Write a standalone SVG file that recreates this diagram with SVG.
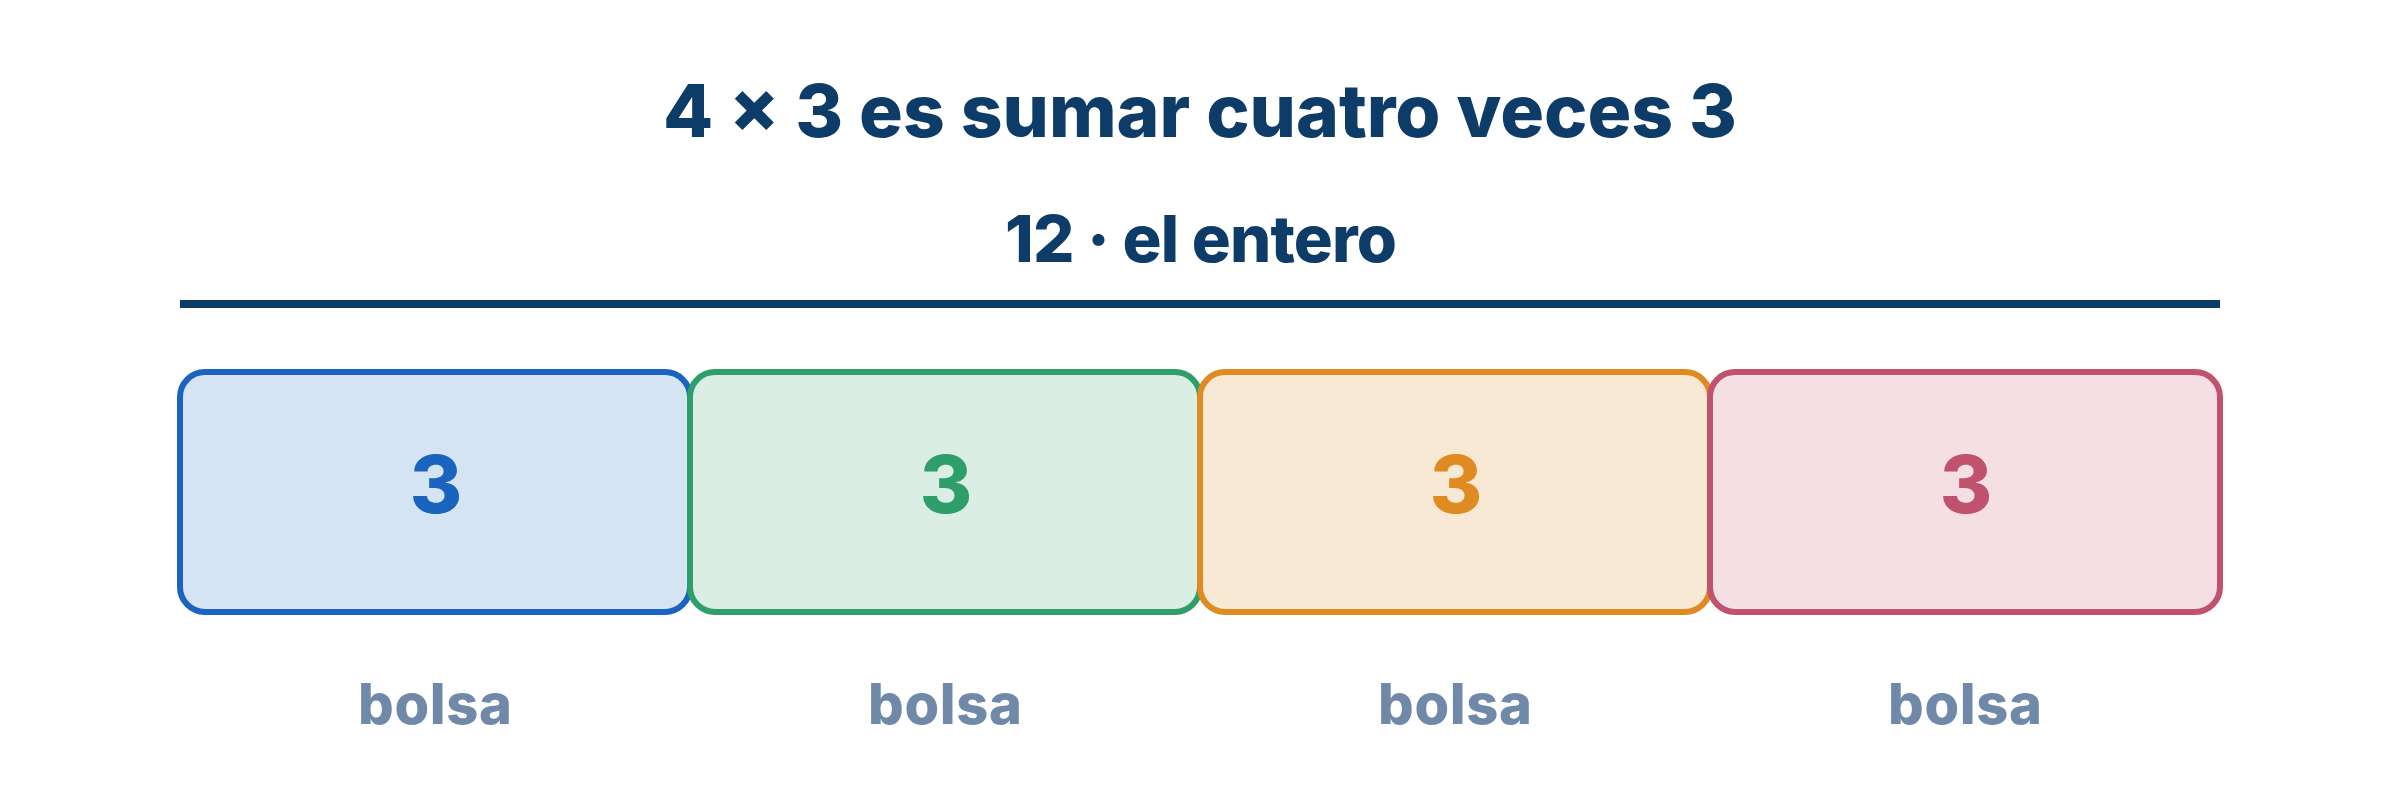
<svg xmlns="http://www.w3.org/2000/svg" width="2400" height="792" viewBox="0 0 2400 792">
<style>
  text { font-family: Inter, "Noto Sans", "Liberation Sans", sans-serif; font-weight: 800; text-anchor: middle; }
  .title { font-size: 73px; fill: #0e3c68; }
  .sub { font-size: 65px; fill: #0e3c68; }
  .num { font-size: 80px; }
  .lbl { font-size: 56px; fill: #7089a8; font-weight: 800; }
  .box { stroke-width: 6; }
</style>
<rect width="2400" height="792" fill="#ffffff"/>
<g id="header">
  <text class="title" x="1200" y="137" textLength="1074" lengthAdjust="spacing">4 × 3 es sumar cuatro veces 3</text>
  <text class="sub" x="1201" y="262" textLength="392" lengthAdjust="spacing">12 · el entero</text>
  <rect x="180" y="300" width="2040" height="8" fill="#0e3c68"/>
</g>
<g id="bag1">
  <rect class="box" x="180" y="372" width="510" height="240" rx="25" fill="#d5e4f3" stroke="#1a64c0"/>
  <text class="num" x="436" y="513" fill="#1a64c0">3</text>
  <text class="lbl" x="435" y="724" textLength="154" lengthAdjust="spacing">bolsa</text>
</g>
<g id="bag2">
  <rect class="box" x="690" y="372" width="510" height="240" rx="25" fill="#dbeee5" stroke="#2e9e6a"/>
  <text class="num" x="946" y="513" fill="#2e9e6a">3</text>
  <text class="lbl" x="945" y="724" textLength="154" lengthAdjust="spacing">bolsa</text>
</g>
<g id="bag3">
  <rect class="box" x="1200" y="372" width="510" height="240" rx="25" fill="#f8e9d5" stroke="#e08a22"/>
  <text class="num" x="1456" y="513" fill="#e08a22">3</text>
  <text class="lbl" x="1455" y="724" textLength="154" lengthAdjust="spacing">bolsa</text>
</g>
<g id="bag4">
  <rect class="box" x="1710" y="372" width="510" height="240" rx="25" fill="#f3dfe4" stroke="#c0526e"/>
  <text class="num" x="1966" y="513" fill="#c0526e">3</text>
  <text class="lbl" x="1965" y="724" textLength="154" lengthAdjust="spacing">bolsa</text>
</g>
<g id="connectors"></g>
</svg>
